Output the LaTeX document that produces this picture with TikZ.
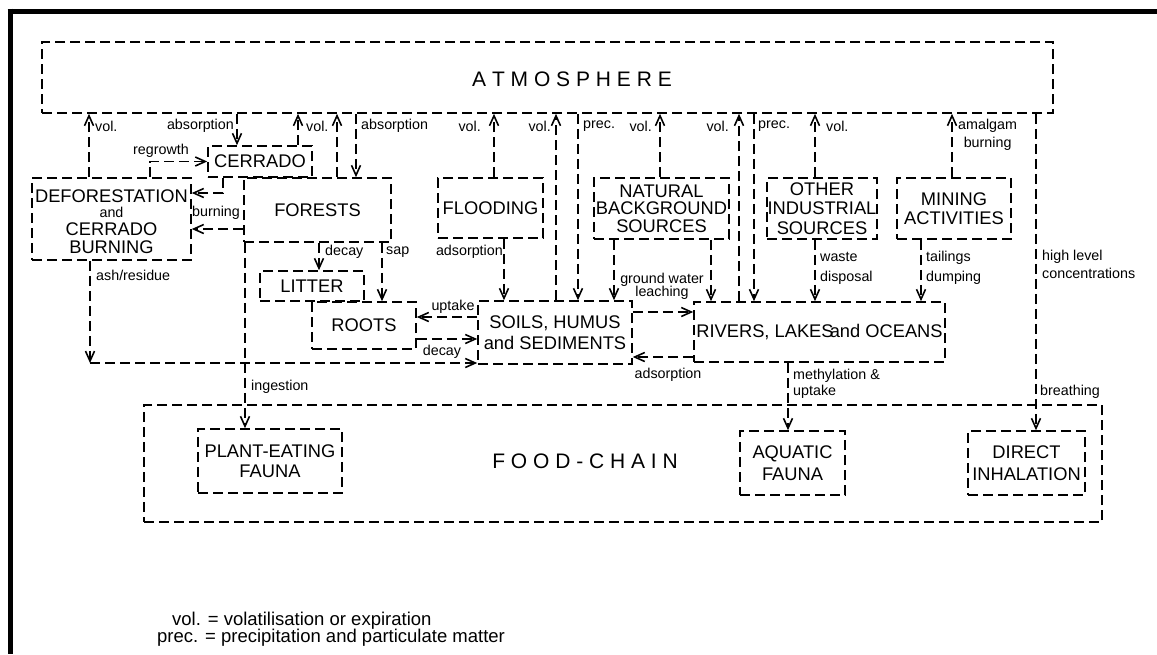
\documentclass[tikz,border=0pt]{standalone}
\usepackage{fontspec}
\setmainfont{Liberation Sans}
\usetikzlibrary{arrows.meta}
\newcommand{\lowerstack}[2]{\raisebox{-#1}[\height][\depth]{\begin{tabular}{@{}c@{}}#2\end{tabular}}}
\begin{document}
\begin{tikzpicture}[x=1pt,y=-1pt,
  box/.style={draw, dash pattern=on 10pt off 5pt, line width=1.6pt, rectangle, inner sep=0pt, align=center, font=\fontsize{18.3}{19.5}\selectfont},
  flow/.style={draw, dash pattern=on 10pt off 5pt, line width=1.6pt, -{Straight Barb[length=10pt,width=9pt,line width=1.6pt]}},
  lab/.style={inner sep=0pt, font=\fontsize{14.3}{17}\selectfont},
  big/.style={inner sep=0pt, font=\fontsize{21}{24}\selectfont},
  frame/.style={line width=5pt}]
\useasboundingbox (0,0) rectangle (1157,654);
% frame
\draw[frame] (7.5,11) -- (1157,11);
\draw[frame] (10,8.5) -- (10,654);
% helper coordinates
\foreach \x in {89,150,223,237,245,298,319,337,356,382,494,504,556,578,614,660,711,739,754,788,815,921,952,1036}
  \coordinate (x\x) at (\x,0);
\foreach \y in {160,193,229,312,317,339,357}
  \coordinate (y\y) at (0,\y);
% boxes
\node[box, minimum width=1011pt, minimum height=71pt] (atm) at (547.5,77.5) {};
\node[big] (atmlab) at (572,79) {A T M O S P H E R E};
\node[box, minimum width=104pt, minimum height=31pt] (cerrado) at (260,161.5) {CERRADO};
\node[box, minimum width=159pt, minimum height=82pt] (defor) at (111.5,219) {\lowerstack{5pt}{DEFORESTATION\\[-4pt]{\fontsize{14.3}{16}\selectfont and}\\[-2pt]CERRADO\\[-1pt]BURNING}};
\node[box, minimum width=147pt, minimum height=64pt] (forests) at (317.5,210) {FORESTS};
\node[box, minimum width=105pt, minimum height=60pt] (flooding) at (490.5,208) {FLOODING};
\node[box, minimum width=135pt, minimum height=61pt] (natural) at (661.5,208.5) {\lowerstack{2.5pt}{NATURAL\\[-2pt]BACKGROUND\\[-2pt]SOURCES}};
\node[box, minimum width=110pt, minimum height=61pt] (other) at (822,208.5) {OTHER\\INDUSTRIAL\\SOURCES};
\node[box, minimum width=114pt, minimum height=61pt] (mining) at (954,208.5) {MINING\\ACTIVITIES};
\node[box, minimum width=104pt, minimum height=30pt] (litter) at (312,286) {LITTER};
\node[box, minimum width=104pt, minimum height=47pt] (roots) at (364,325.5) {ROOTS};
\node[box, minimum width=154pt, minimum height=63pt] (soils) at (555,332.5) {SOILS, HUMUS\\[2pt]and SEDIMENTS};
\node[box, minimum width=251pt, minimum height=60pt] (rivers) at (819.5,332) {RIVERS, LAKES\hspace{-9pt} and OCEANS};
\node[box, minimum width=958pt, minimum height=117pt] (food) at (623,463.5) {};
\node[big] (foodlab) at (585,461) {F O O D - C H A I N};
\node[box, minimum width=144pt, minimum height=64pt] (plant) at (270,461) {PLANT-EATING\\FAUNA};
\node[box, minimum width=105pt, minimum height=64pt] (aquatic) at (792.5,463) {AQUATIC\\[2pt]FAUNA};
\node[box, minimum width=117pt, minimum height=64pt] (direct) at (1026.5,463) {DIRECT\\[2pt]INHALATION};
% connectors to/from atmosphere
\draw[flow] (defor.north -| x89) -- (atm.south -| x89);
\draw[flow] (atm.south -| x237) -- (cerrado.north -| x237);
\draw[flow] (cerrado.north -| x298) -- (atm.south -| x298);
\draw[flow] (forests.north -| x337) -- (atm.south -| x337);
\draw[flow] (atm.south -| x356) -- (forests.north -| x356);
\draw[flow] (flooding.north -| x494) -- (atm.south -| x494);
\draw[flow] (soils.north -| x556) -- (atm.south -| x556);
\draw[flow] (atm.south -| x578) -- (soils.north -| x578);
\draw[flow] (natural.north -| x660) -- (atm.south -| x660);
\draw[flow] (rivers.north -| x739) -- (atm.south -| x739);
\draw[flow] (atm.south -| x754) -- (rivers.north -| x754);
\draw[flow] (other.north -| x815) -- (atm.south -| x815);
\draw[flow] (mining.north -| x952) -- (atm.south -| x952);
\draw[flow] (atm.south -| x1036) -- (direct.north -| x1036);
% cerrado / deforestation / forests
\draw[flow] (defor.north -| x150) |- (cerrado.west);
\draw[flow] (cerrado.south -| x223) |- (defor.east |- y193);
\draw[flow] (forests.west |- y229) -- (defor.east |- y229);
\coordinate (ashc) at (90,363);
\draw[flow] (defor.south -| ashc) -- (ashc);
\draw[flow] (ashc) -- (soils.west |- ashc);
\draw[flow] (forests.south -| x319) -- (litter.north -| x319);
\draw[flow] (forests.south -| x382) -- (roots.north -| x382);
\draw[flow] (forests.south -| x245) -- (plant.north -| x245);
\draw[flow] (soils.west |- y317) -- (roots.east |- y317);
\draw[flow] (roots.east |- y339) -- (soils.west |- y339);
% sources to soils / rivers
\draw[flow] (flooding.south -| x504) -- (soils.north -| x504);
\draw[flow] (natural.south -| x614) -- (soils.north -| x614);
\draw[flow] (natural.south -| x711) -- (rivers.north -| x711);
\draw[flow] (other.south -| x815) -- (rivers.north -| x815);
\draw[flow] (mining.south -| x921) -- (rivers.north -| x921);
\draw[flow] (soils.east |- y312) -- (rivers.west |- y312);
\draw[flow] (rivers.west |- y357) -- (soils.east |- y357);
\draw[flow] (rivers.south -| x788) -- (aquatic.north -| x788);
% labels
\node[lab, anchor=west] (l1) at (95,126) {vol.};
\node[lab, anchor=east] (l2) at (234,126) {absorption};
\node[lab, anchor=west] (l3) at (306,126) {vol.};
\node[lab, anchor=west] (l4) at (361,126) {absorption};
\node[lab, anchor=east] (l5) at (481,126) {vol.};
\node[lab, anchor=east] (l6) at (551,126) {vol.};
\node[lab, anchor=west] (l7) at (583,126) {prec.};
\node[lab, anchor=east] (l8) at (652,126) {vol.};
\node[lab, anchor=east] (l9) at (729,126) {vol.};
\node[lab, anchor=west] (l10) at (758,126) {prec.};
\node[lab, anchor=west] (l11) at (826,126) {vol.};
\node[lab, anchor=west, align=center, font=\fontsize{14.3}{18}\selectfont] (l12) at (958,135) {amalgam\\burning};
\node[lab] (l13) at (161,151) {regrowth};
\node[lab] (l14) at (216,213) {burning};
\node[lab, anchor=west] (l15) at (96,275) {ash/residue};
\node[lab, anchor=west] (l16) at (325,252) {decay};
\node[lab, anchor=west] (l17) at (386,252) {sap};
\node[lab, anchor=east] (l18) at (503,252) {adsorption};
\node[lab, align=center, font=\fontsize{14.3}{13.5}\selectfont] (l19) at (662,286.5) {ground water\\leaching};
\node[lab, anchor=west, align=left, font=\fontsize{14.3}{20}\selectfont] (l20) at (820,268) {waste\\disposal};
\node[lab, anchor=west, align=left, font=\fontsize{14.3}{20}\selectfont] (l21) at (926,268) {tailings\\dumping};
\node[lab, anchor=west, align=left, font=\fontsize{14.3}{18}\selectfont] (l22) at (1042,264) {high level\\ concentrations};
\node[lab] (l23) at (453,307) {uptake};
\node[lab] (l24) at (442,352) {decay};
\node[lab] (l25) at (668,375) {adsorption};
\node[lab, anchor=west] (l26) at (251,387) {ingestion};
\node[lab, anchor=west, align=left, font=\fontsize{14.3}{16}\selectfont] (l27) at (793,384) {methylation \&\\uptake};
\node[lab, anchor=west] (l28) at (1040,392) {breathing};
% legend
\node[lab, anchor=west, font=\fontsize{18.5}{20}\selectfont] (leg1) at (172,621) {vol. = volatilisation or expiration};
\node[lab, anchor=west, font=\fontsize{18.5}{20}\selectfont] (leg2) at (157,638) {prec. = precipitation and particulate matter};
\end{tikzpicture}
\end{document}
